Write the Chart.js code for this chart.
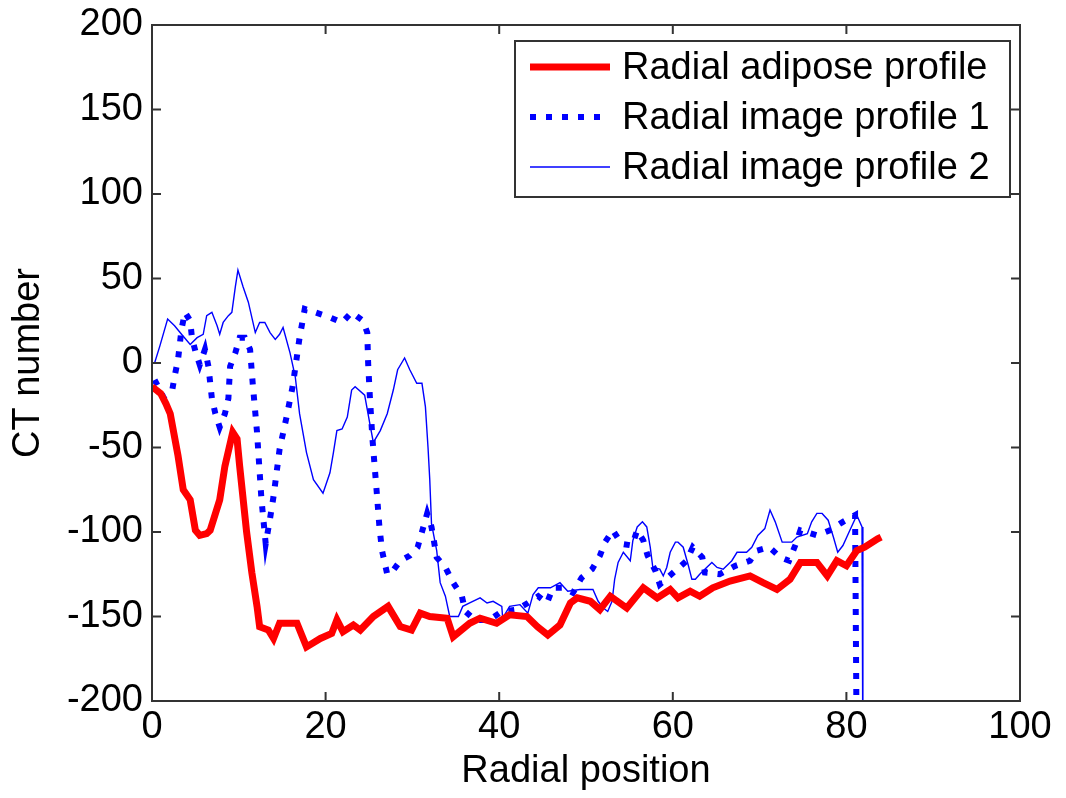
<!DOCTYPE html>
<html>
<head>
<meta charset="utf-8">
<script src="https://cdn.jsdelivr.net/npm/chart.js@4.4.1/dist/chart.umd.min.js"></script>
<style>
  body { margin: 0; background: #fff; }
  #wrap { width: 1066px; height: 798px; }
</style>
</head>
<body>
<div id="wrap"><canvas id="profileChart" width="1066" height="798"></canvas></div>
<script>
// 축 눈금
const xTicks = [0, 20, 40, 60, 80, 100];
const yTicks = [-200, -150, -100, -50, 0, 50, 100, 150, 200];

// 범례 이름
const seriesNames = ['Radial adipose profile', 'Radial image profile 1', 'Radial image profile 2'];

// Radial adipose profile
const adiposeX = [0, 1.0, 1.6, 2.1, 3.0, 3.6, 4.4, 5.0, 5.5, 6.3,
  6.7, 7.8, 8.4, 9.3, 9.8, 10.1, 10.9, 11.5, 12.1, 12.4,
  13.4, 14.0, 14.7, 16.7, 17.8, 19.4, 20.7, 21.3, 22.0, 23.2,
  24.0, 25.5, 27.2, 28.6, 29.9, 30.9, 32.0, 34.0, 34.7, 36.6,
  37.8, 39.7, 41.2, 43.2, 44.4, 45.6, 47.0, 48.2, 49.0, 50.5,
  51.6, 52.8, 54.7, 56.6, 58.2, 59.7, 60.6, 62.0, 63.1, 64.6,
  66.6, 68.9, 70.4, 72.0, 73.5, 74.7, 76.6, 77.8, 78.9, 80.0,
  81.2, 82.1, 83.6, 84.0];
const adiposeY = [-14, -18, -24, -30, -55, -75, -81, -99, -102, -101,
  -99, -81, -61, -41, -45, -61, -100, -124, -144, -156,
  -158, -163, -154, -154, -168, -163, -160, -152, -159, -155,
  -158, -150, -144, -156, -158, -148, -150, -151, -162, -154,
  -151, -154, -149, -150, -156, -161, -155, -142, -139, -141,
  -146, -138, -145, -133, -139, -134, -139, -135, -138, -133,
  -129, -126, -130, -134, -128, -118, -118, -126, -117, -120,
  -111, -109, -104, -103];

// Radial image profile 1 (점선)
const image1X = [0.3, 1.3, 2.3, 2.6, 3.0, 3.4, 3.8, 4.4, 4.6, 5.0,
  5.5, 6.1, 6.5, 6.9, 7.3, 7.8, 8.4, 8.8, 9.0, 9.6,
  10.1, 10.7, 11.3, 11.6, 12.1, 12.6, 13.1, 13.6, 14.0, 14.7,
  15.5, 16.2, 17.0, 17.6, 18.8, 20.5, 21.9, 23.0, 24.3, 24.8,
  24.9, 25.1, 25.4, 25.9, 26.2, 26.5, 27.1, 27.6, 28.6, 29.7,
  30.6, 31.1, 31.7, 32.2, 32.8, 33.8, 34.7, 35.7, 36.1, 37.2,
  38.9, 40.3, 42.0, 43.3, 44.5, 45.5, 46.2, 47.4, 48.5, 49.5,
  50.7, 51.6, 52.2, 53.1, 54.1, 55.3, 55.9, 56.6, 57.1, 58.0,
  58.5, 59.4, 60.5, 61.6, 62.3, 63.4, 63.7, 65.4, 67.2, 68.9,
  69.7, 71.1, 72.4, 73.4, 74.1, 74.7, 76.6, 78.1, 79.6, 81.0,
  81.2];
const image1Y = [-10, -20, -17, -8, 2, 20, 30, 25, 15, 7,
  -1, 8, -2, -21, -30, -38, -30, -21, -2, 6,
  15, 15, 8, -12, -41, -80, -107, -92, -79, -51,
  -32, -14, 15, 32, 30, 27, 24, 30, 25, 18,
  0, -20, -45, -77, -97, -111, -125, -124, -117, -114,
  -109, -100, -89, -97, -115, -121, -130, -138, -147, -152,
  -152, -147, -146, -142, -138, -142, -133, -133, -136, -127,
  -122, -114, -106, -99, -107, -108, -99, -105, -114, -123,
  -131, -127, -122, -117, -109, -115, -124, -125, -120, -117,
  -111, -109, -115, -117, -108, -99, -102, -99, -94, -90,
  -240];

// Radial image profile 2 (가는 실선)
const image2X = [0.3, 0.9, 1.8, 2.6, 3.4, 4.4, 5.2, 5.9, 6.3, 6.9,
  7.5, 7.8, 8.2, 8.8, 9.2, 9.6, 9.9, 10.5, 11.1, 11.9,
  12.4, 13.0, 13.6, 14.2, 14.7, 15.1, 15.9, 16.5, 17.0, 17.8,
  18.6, 19.7, 20.5, 20.9, 21.3, 21.9, 22.5, 23.0, 23.4, 24.5,
  25.1, 25.5, 26.3, 27.1, 27.8, 28.3, 29.1, 29.7, 30.5, 31.1,
  31.5, 31.8, 32.0, 32.2, 32.8, 33.2, 33.8, 34.3, 35.3, 35.8,
  36.6, 37.8, 38.6, 39.3, 40.3, 40.4, 41.2, 42.4, 43.3, 43.9,
  44.5, 45.9, 47.0, 47.9, 49.3, 50.8, 51.4, 52.0, 52.5, 53.0,
  53.3, 53.7, 54.3, 55.1, 55.4, 55.9, 56.5, 57.0, 57.4, 57.7,
  58.5, 58.9, 59.3, 59.7, 60.3, 60.6, 61.2, 61.8, 62.2, 62.6,
  63.1, 63.9, 64.5, 65.1, 65.8, 66.8, 67.4, 68.5, 69.1, 69.8,
  70.6, 71.2, 71.8, 72.6, 73.7, 74.3, 75.5, 76.0, 76.6, 77.2,
  77.9, 78.5, 79.0, 79.6, 80.4, 81.2, 81.8, 81.9];
const image2Y = [0, 10, 26, 22, 17, 11, 15, 17, 28, 30,
  22, 17, 24, 28, 30, 45, 55, 45, 36, 18,
  24, 24, 18, 14, 17, 21, 6, -8, -30, -53,
  -69, -77, -65, -53, -40, -39, -32, -16, -14, -19,
  -36, -47, -40, -30, -16, -4, 3, -4, -12, -12,
  -26, -50, -69, -95, -111, -130, -138, -150, -150, -144,
  -142, -139, -142, -141, -144, -151, -144, -143, -148, -137,
  -133, -133, -130, -135, -134, -134, -141, -145, -147, -141,
  -128, -118, -112, -117, -105, -97, -94, -97, -109, -121,
  -122, -126, -121, -112, -106, -106, -109, -120, -128, -128,
  -125, -121, -118, -121, -122, -117, -112, -112, -109, -102,
  -98, -87, -94, -106, -106, -103, -101, -94, -89, -89,
  -93, -103, -112, -108, -99, -90, -97, -240];

const FONT = 'Liberation Sans, Arial, sans-serif';

function toPoints(xs, ys) {
    return xs.map((x, i) => ({ x: x, y: ys[i] }));
}

const datasets = [
    { label: seriesNames[0], data: toPoints(adiposeX, adiposeY), borderColor: '#ff0000', borderWidth: 7 },
    { label: seriesNames[1], data: toPoints(image1X, image1Y), borderColor: '#0000ff', borderWidth: 6, borderDash: [6, 10] },
    { label: seriesNames[2], data: toPoints(image2X, image2Y), borderColor: '#0000ff', borderWidth: 1.4 }
].map(ds => Object.assign(ds, { showLine: true, pointRadius: 0, tension: 0, fill: false, borderCapStyle: 'butt' }));

// 상자 테두리 + 안쪽 눈금
const boxPlugin = {
    id: 'matlabBox',
    afterDatasetsDraw(chart) {
        const { ctx, chartArea: a, scales } = chart;
        ctx.save();
        ctx.strokeStyle = '#333';
        ctx.lineWidth = 2;
        ctx.beginPath();
        xTicks.forEach(v => {
            const px = scales.x.getPixelForValue(v);
            ctx.moveTo(px, a.bottom); ctx.lineTo(px, a.bottom - 9);
            ctx.moveTo(px, a.top); ctx.lineTo(px, a.top + 9);
        });
        yTicks.forEach(v => {
            const py = scales.y.getPixelForValue(v);
            ctx.moveTo(a.left, py); ctx.lineTo(a.left + 9, py);
            ctx.moveTo(a.right, py); ctx.lineTo(a.right - 9, py);
        });
        ctx.stroke();
        ctx.strokeRect(a.left, a.top, a.right - a.left, a.bottom - a.top);
        ctx.restore();
    }
};

// 범례 (차트 영역 오른쪽 위)
const legendPlugin = {
    id: 'boxLegend',
    afterDraw(chart) {
        const { ctx, chartArea: a } = chart;
        const w = 495, h = 156;
        const left = a.right - 10 - w, top = a.top + 16;
        ctx.save();
        ctx.fillStyle = '#fff';
        ctx.fillRect(left, top, w, h);
        ctx.strokeStyle = '#333';
        ctx.lineWidth = 2;
        ctx.strokeRect(left, top, w, h);
        chart.data.datasets.forEach((ds, i) => {
            const y = top + 26 + i * 50;
            ctx.beginPath();
            ctx.strokeStyle = ds.borderColor;
            ctx.lineWidth = ds.borderWidth;
            ctx.setLineDash(ds.borderDash || []);
            ctx.moveTo(left + 15, y);
            ctx.lineTo(left + 95, y);
            ctx.stroke();
            ctx.setLineDash([]);
            ctx.fillStyle = '#000';
            ctx.font = '38px ' + FONT;
            ctx.textBaseline = 'middle';
            ctx.textAlign = 'left';
            ctx.fillText(ds.label, left + 107, y + 2);
        });
        ctx.restore();
    }
};

new Chart(document.getElementById('profileChart'), {
    type: 'scatter',
    data: { datasets: datasets },
    options: {
        responsive: false,
        animation: false,
        layout: { padding: { top: 25, right: 46, left: 0, bottom: 0 } },
        plugins: { legend: { display: false }, tooltip: { enabled: false } },
        scales: {
            x: {
                type: 'linear', min: 0, max: 100,
                afterBuildTicks: s => { s.ticks = xTicks.map(v => ({ value: v })); },
                afterFit: s => { s.height = 97; },
                grid: { display: false, drawTicks: false },
                border: { display: false },
                ticks: { color: '#000', padding: 4, font: { family: FONT, size: 38 } },
                title: { display: true, text: 'Radial position', color: '#000', padding: { top: 0, bottom: 4 }, font: { family: FONT, size: 38 } }
            },
            y: {
                type: 'linear', min: -200, max: 200,
                afterBuildTicks: s => { s.ticks = yTicks.map(v => ({ value: v })); },
                afterFit: s => { s.width = 152; s.paddingTop = 0; s.paddingBottom = 0; },
                grid: { display: false, drawTicks: false },
                border: { display: false },
                ticks: { color: '#000', padding: 9, font: { family: FONT, size: 38 } },
                title: { display: true, text: 'CT number', color: '#000', padding: { top: 6, bottom: 0 }, font: { family: FONT, size: 38 } }
            }
        }
    },
    plugins: [boxPlugin, legendPlugin]
});
</script>
</body>
</html>
